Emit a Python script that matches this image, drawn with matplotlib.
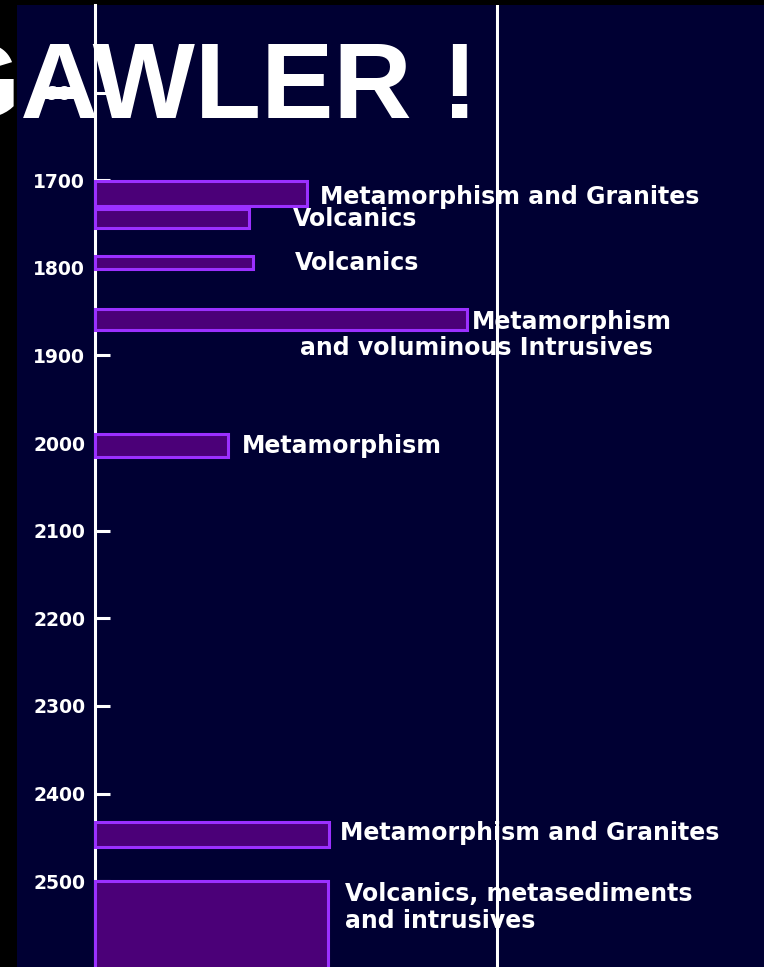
import matplotlib
matplotlib.use('Agg')
import matplotlib.pyplot as plt

# Gawler Craton events (age in Ma, older at the bottom)
EVENTS = [
    'Metamorphism and Granites',
    'Volcanics',
    'Volcanics',
    'Metamorphism',
    'Metamorphism',
    'Metamorphism and Granites',
    'Volcanics, metasediments\nand intrusives',
]
START_AGE = [1701, 1733, 1786, 1847, 1990, 2432, 2500]
END_AGE   = [1729, 1755, 1801, 1871, 2016, 2461, 2620]
EXTENT    = [0.527, 0.383, 0.393, 0.925, 0.331, 0.582, 0.580]
SUBLABEL  = 'and voluminous Intrusives'
AGE_TICKS = [1600, 1700, 1800, 1900, 2000, 2100, 2200, 2300, 2400, 2500]

# label placement (x in EXTENT units, y in Ma)
LABEL_X   = [0.560, 0.493, 0.498, 0.938, 0.366, 0.609, 0.622]
LABEL_AGE = [1719, 1744, 1795, 1862, 2003, 2445, 2501]

navy = '#000033'
fill = '#4b0078'
edge = '#9b30ff'

fig = plt.figure(figsize=(7.64, 9.67), dpi=100, facecolor='black')
ax = fig.add_axes([17 / 764, 0, 1 - 17 / 764, 1 - 5 / 967])
ax.set_facecolor(navy)

heights = [e - s for s, e in zip(START_AGE, END_AGE)]
ax.barh(START_AGE, EXTENT, height=heights, left=0, align='edge',
        color=fill, edgecolor=edge, linewidth=2.2, zorder=3)

ax.set_xlim(-0.194, 1.664)
ax.set_ylim(2598, 1500)

# right hand reference line
ax.axvline(1.0, color='white', linewidth=2.2, zorder=2)

font = dict(color='white', fontsize=17, fontweight='bold', ha='left', zorder=4)
for i, (txt, x, y) in enumerate(zip(EVENTS, LABEL_X, LABEL_AGE)):
    if i == len(EVENTS) - 1:
        ax.text(x, y, txt, va='top', linespacing=1.15, **font)
    else:
        ax.text(x, y, txt, va='center', **font)
ax.text(0.510, 1892, SUBLABEL, va='center', **font)

for s in ['top', 'right', 'bottom']:
    ax.spines[s].set_visible(False)
ax.spines['left'].set_position(('data', 0))
ax.spines['left'].set_color('white')
ax.spines['left'].set_linewidth(2.2)
ax.spines['left'].set_zorder(2)

ax.set_xticks([])
ax.set_yticks(AGE_TICKS)
ax.set_yticklabels([str(t) for t in AGE_TICKS], fontsize=13.5,
                   fontweight='bold', color='white')
ax.tick_params(axis='y', direction='in', length=11, width=2.2,
               color='white', pad=7)

fig.text(478 / 764, 1 - 118 / 967, 'GAWLER !', color='white',
         fontsize=78, fontweight='bold', family='Liberation Sans',
         ha='right', va='baseline')

plt.savefig('out.png', dpi=100, facecolor=fig.get_facecolor())
